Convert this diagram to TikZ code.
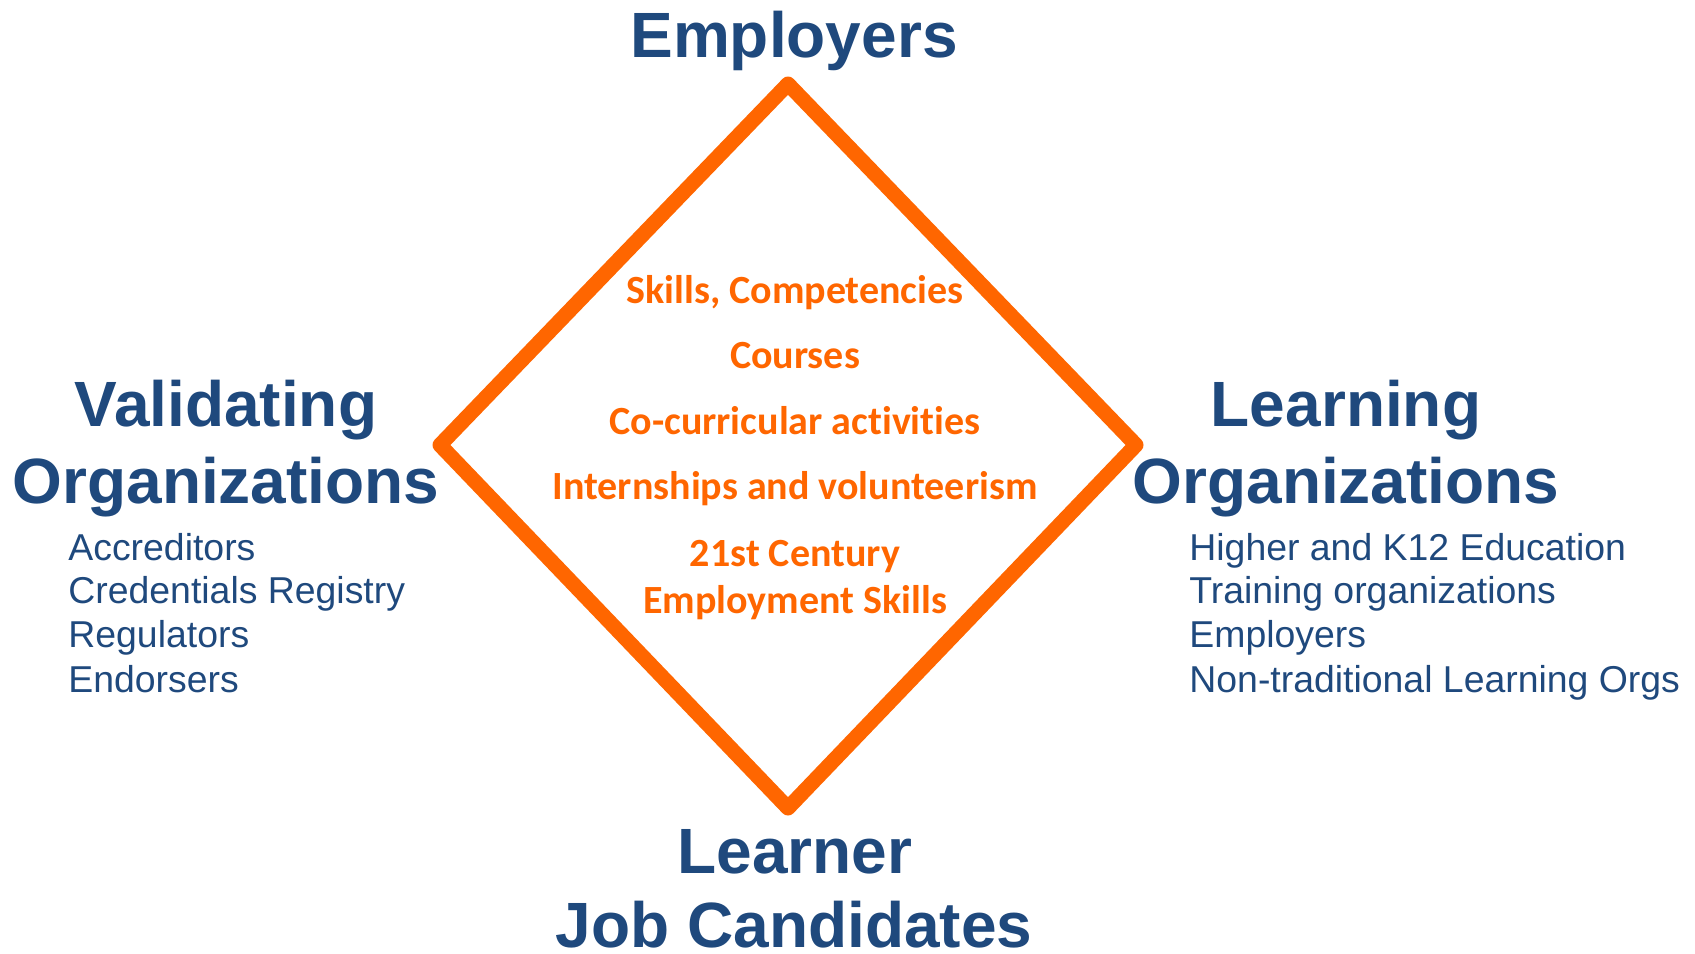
\documentclass[tikz,border=0pt]{standalone}
\usepackage{fontspec}
\setmainfont{Liberation Sans}
\newfontfamily\calib[Ligatures=NoCommon]{Carlito}
\definecolor{navy}{HTML}{1F497D}
\definecolor{orng}{HTML}{FF6600}
\begin{document}
\begin{tikzpicture}[x=0.5pt,y=-0.5pt,
  head/.style={text=navy,font=\fontsize{32pt}{38pt}\selectfont\bfseries,anchor=base,inner sep=0pt},
  item/.style={text=navy,font=\fontsize{18.7pt}{22pt}\selectfont,anchor=base west,inner sep=0pt},
  mid/.style={text=orng,font=\calib\fontsize{20pt}{24pt}\selectfont\bfseries,anchor=base,inner sep=0pt}]
\useasboundingbox (0,0) rectangle (1695,953);
% diamond
\coordinate (T) at (788,84);
\coordinate (R) at (1136,445);
\coordinate (B) at (788,808);
\coordinate (L) at (440,445);
\draw[orng,line width=7.5pt,line join=round,line cap=round] (T) -- (R) -- (B) -- (L) -- cycle;
% top
\node[head] (emp) at (794,57) {Employers};
% left
\node[head] (val1) at (226,426) {Validating};
\node[head] (val2) at (226,503) {Organizations};
\node[item] (v1) at (68,560) {Accreditors};
\node[item] (v2) at (68,603) {Credentials Registry};
\node[item] (v3) at (68,647) {Regulators};
\node[item] (v4) at (68,692) {Endorsers};
% right
\node[head] (lrn1) at (1346,426) {Learning};
\node[head] (lrn2) at (1346,503) {Organizations};
\node[item] (l1) at (1189,560) {Higher and K12 Education};
\node[item] (l2) at (1189,603) {Training organizations};
\node[item] (l3) at (1189,647) {Employers};
\node[item] (l4) at (1189,692) {Non-traditional Learning Orgs};
% bottom
\node[head] (lj1) at (795,873) {Learner};
\node[head] (lj2) at (794,947) {Job Candidates};
% middle
\node[mid] (m1) at (795,303) {Skills, Competencies};
\node[mid] (m2) at (795,368) {Courses};
\node[mid] (m3) at (795,434) {Co-curricular activities};
\node[mid] (m4) at (795,499) {Internships and volunteerism};
\node[mid] (m5) at (795,566) {21st Century};
\node[mid] (m6) at (795,613) {Employment Skills};
\end{tikzpicture}
\end{document}
